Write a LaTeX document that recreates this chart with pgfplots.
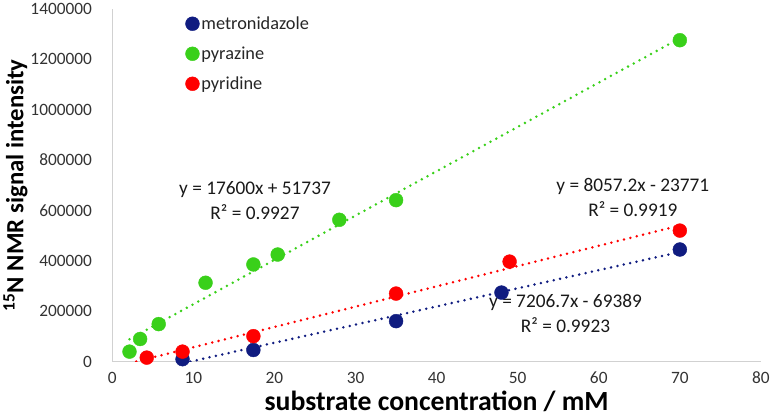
\documentclass[border=0pt]{standalone}
\usepackage{pgfplots}
\pgfplotsset{compat=1.18}
\usepackage{fontspec}
\setmainfont{Carlito}
\definecolor{mnavy}{RGB}{16,28,128}
\definecolor{mgreen}{RGB}{57,208,26}
\definecolor{mred}{RGB}{255,0,0}
\begin{document}
\begin{tikzpicture}
\begin{axis}[
  scale only axis, width=653bp, height=355bp,
  xmin=0, xmax=80, ymin=0, ymax=1400000,
  xtick={0,10,...,80}, ytick={0,200000,...,1400000},
  scaled y ticks=false, scaled x ticks=false,
  yticklabel style={/pgf/number format/fixed, /pgf/number format/1000 sep={}},
  /pgf/number format/assume math mode=true,
  tick label style={font=\fontsize{17.5}{20}\selectfont, text=black!80},
  major tick length=0pt,
  axis x line*=bottom, axis y line*=left,
  axis line style={draw=black!18, line width=1.2pt, -},
  xticklabel style={yshift=-7bp},
  yticklabel style={xshift=-17bp},
  xlabel={substrate concentration / mM},
  ylabel={\textsuperscript{15}N NMR signal intensity},
  label style={font=\fontsize{25}{28}\selectfont\bfseries},
  xlabel style={font=\fontsize{28}{30}\selectfont\bfseries, at={(axis description cs:0.5,0)}, anchor=base, yshift=-49bp, inner sep=5bp},
  ylabel style={yshift=-4bp},
  clip=true,
  legend style={draw=none, fill=none, at={(0.108,0.99)}, anchor=north west,
    font=\fontsize{18.5}{21}\selectfont, row sep=12bp, text=black!85},
  legend cell align=left,
  trend/.style={line width=2.8pt, dash pattern=on 0pt off 6.6pt, line cap=round},
  pts/.style={only marks, mark=*, mark size=7bp},
]
% trendlines
\addplot[forget plot, trend, mgreen] coordinates {(2.12,89049) (70,1283737)};
\addplot[forget plot, trend, mred] coordinates {(2.95,0) (70,540233)};
\addplot[forget plot, trend, mnavy] coordinates {(9.63,0) (70,435080)};
% data
\addplot[pts, mark options={fill=mnavy, draw=mnavy}] coordinates {
  (8.66,9500) (17.4,46000) (35,160600) (48,274000) (70,445000)};
\addlegendentry{metronidazole}
\addplot[pts, mark options={fill=mgreen, draw=mgreen}] coordinates {
  (2.12,39500) (3.43,89600) (5.72,148800) (11.5,313000) (17.4,385600)
  (20.4,425000) (28,563000) (35,641000) (70,1276000)};
\addlegendentry{pyrazine}
\addplot[pts, mark options={fill=mred, draw=mred}] coordinates {
  (4.25,15800) (8.66,39500) (17.4,101000) (35,270000) (49,397000) (70,520000)};
\addlegendentry{pyridine}
% equations
\node[align=center, font=\fontsize{19.5}{25}\selectfont, text=black!90] at (axis cs:17.6,640000) {y = 17600x + 51737\\R² = 0.9927};
\node[align=center, font=\fontsize{19.5}{25}\selectfont, text=black!90] at (axis cs:64.2,652000) {y = 8057.2x - 23771\\R² = 0.9919};
\node[align=center, font=\fontsize{19.5}{25}\selectfont, text=black!90] at (axis cs:55.9,190000) {y = 7206.7x - 69389\\R² = 0.9923};
\end{axis}
\end{tikzpicture}
\end{document}
